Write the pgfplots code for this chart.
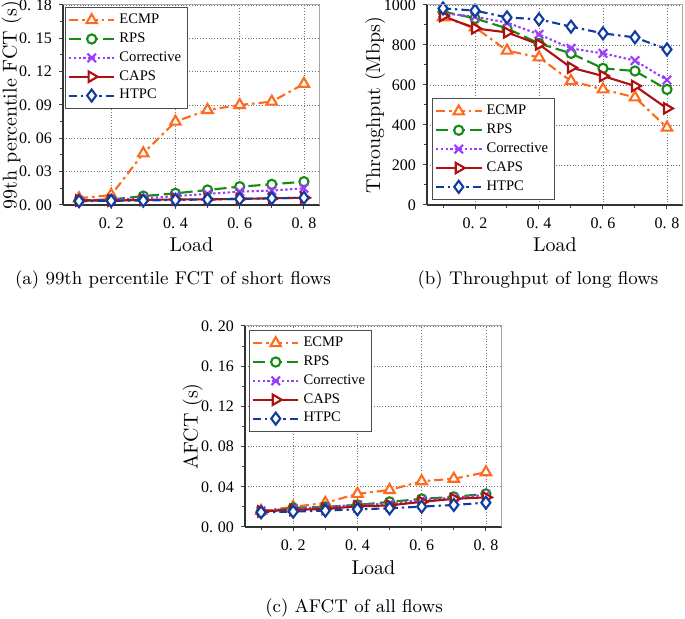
\documentclass[border=0pt]{standalone}
\usepackage{fontspec}
\usepackage{pgfplots}
\pgfplotsset{compat=1.18}

\newfontfamily\tnr{Liberation Serif}

\definecolor{cECMP}{RGB}{255,105,30}
\definecolor{cRPS}{RGB}{20,140,20}
\definecolor{cCorr}{RGB}{155,60,255}
\definecolor{cCAPS}{RGB}{175,15,15}
\definecolor{cHTPC}{RGB}{15,60,160}

% tick labels look like "0. 2" in the original
\newcommand\tl[1]{0.\kern2.4pt#1}

\pgfplotsset{
  loadfig/.style={
    scale only axis,
    xmin=0.05, xmax=0.85,
    xtick={0.2,0.4,0.6,0.8},
    xticklabels={\tl{2},\tl{4},\tl{6},\tl{8}},
    minor xtick={0.1,0.3,0.5,0.7},
    minor y tick num=1,
    grid=major,
    major grid style={black!55, densely dotted, line width=0.4pt},
    axis x line*=bottom, axis y line*=left,
    axis line style={black!80, line width=0.6pt},
    tick align=outside,
    major tick length=2pt, minor tick length=1.7pt,
    every tick/.style={black!75, line width=0.5pt},
    tick label style={font=\tnr\fontsize{8}{9}\selectfont},
    xticklabel style={yshift=-1pt},
    label style={font=\tnr\fontsize{10.8}{12}\selectfont},
    xlabel={Load},
    every axis x label/.style={at={(axis description cs:0.5,-0.2)}, anchor=center},
    legend style={font=\tnr\fontsize{7.3}{8}\selectfont, draw=black!70,
      line width=0.4pt, fill=white, inner sep=1.2pt, row sep=-0.9pt,
      cells={anchor=west}},
    legend image code/.code={\draw[mark repeat=2,mark phase=2]
      plot coordinates {(0cm,0cm)(0.4cm,0cm)(0.8cm,0cm)};},
    every axis plot/.append style={line width=1.05pt},
    % light frame on the top and right sides
    after end axis/.code={\draw[black!35, line width=0.5pt]
      (rel axis cs:0,1) -- (rel axis cs:1,1) -- (rel axis cs:1,0);},
  },
  ecmp/.style={color=cECMP, mark=triangle*, mark size=3pt,
    mark options={solid, fill=white}, dash pattern=on 4.5pt off 2pt on 1.3pt off 2pt},
  rps/.style={color=cRPS, mark=*, mark size=2.3pt,
    mark options={solid, fill=white}, dash pattern=on 6pt off 2.5pt},
  corr/.style={color=cCorr, mark=x, mark size=3pt,
    mark options={solid}, dash pattern=on 1.2pt off 1.2pt},
  caps/.style={color=cCAPS, mark=triangle*, mark size=3pt,
    mark options={solid, fill=white, rotate=-90}},
  htpc/.style={color=cHTPC, mark=diamond*, mark size=3pt,
    mark options={solid, fill=white}, dash pattern=on 4pt off 2pt on 1.2pt off 2pt},
}

\begin{document}
\begin{tikzpicture}
\useasboundingbox (0pt,0pt) rectangle (342.5pt,-309.5pt);

% (a) 99th percentile FCT of short flows
\begin{axis}[loadfig,
  at={(31.5pt,-2.5pt)}, anchor=north west,
  width=128.5pt, height=100pt,
  ymin=0, ymax=0.18,
  ytick={0,0.03,0.06,0.09,0.12,0.15,0.18},
  yticklabels={\tl{00},\tl{03},\tl{06},\tl{09},\tl{12},\tl{15},\tl{18}},
  ylabel={99th percentile FCT (s)},
  every axis y label/.style={at={(axis description cs:-0.2,0.5)}, rotate=90, anchor=center},
  legend style={at={(0.008,0.99)}, anchor=north west},
]
\addplot[ecmp] coordinates {(0.1,0.006) (0.2,0.009) (0.3,0.0465) (0.4,0.075) (0.5,0.0855) (0.6,0.090) (0.7,0.093) (0.8,0.109)};
\addplot[rps] coordinates {(0.1,0.004) (0.2,0.005) (0.3,0.008) (0.4,0.0105) (0.5,0.0135) (0.6,0.0165) (0.7,0.0186) (0.8,0.021)};
\addplot[corr] coordinates {(0.1,0.004) (0.2,0.005) (0.3,0.006) (0.4,0.008) (0.5,0.010) (0.6,0.012) (0.7,0.013) (0.8,0.015)};
\addplot[caps] coordinates {(0.1,0.004) (0.2,0.004) (0.3,0.0045) (0.4,0.005) (0.5,0.005) (0.6,0.0055) (0.7,0.006) (0.8,0.0065)};
\addplot[htpc] coordinates {(0.1,0.0035) (0.2,0.0038) (0.3,0.004) (0.4,0.0045) (0.5,0.005) (0.6,0.0055) (0.7,0.006) (0.8,0.0065)};
\legend{ECMP,RPS,Corrective,CAPS,HTPC}
\end{axis}

% (b) Throughput of long flows
\begin{axis}[loadfig,
  at={(213.5pt,-2.5pt)}, anchor=north west,
  width=128pt, height=100pt,
  ymin=0, ymax=1000,
  ytick={0,200,400,600,800,1000},
  yticklabels={0,200,400,600,800,1000},
  ylabel={Throughput (Mbps)},
  every axis y label/.style={at={(axis description cs:-0.203,0.5)}, rotate=90, anchor=center},
  legend style={at={(0.02,0.025)}, anchor=south west},
]
\addplot[ecmp] coordinates {(0.1,938) (0.2,888) (0.3,772) (0.4,738) (0.5,620) (0.6,578) (0.7,538) (0.8,387)};
\addplot[rps] coordinates {(0.1,967) (0.2,933) (0.3,883) (0.4,808) (0.5,758) (0.6,683) (0.7,670) (0.8,578)};
\addplot[corr] coordinates {(0.1,958) (0.2,942) (0.3,912) (0.4,853) (0.5,783) (0.6,758) (0.7,722) (0.8,625)};
\addplot[caps] coordinates {(0.1,945) (0.2,883) (0.3,863) (0.4,803) (0.5,687) (0.6,645) (0.7,595) (0.8,483)};
\addplot[htpc] coordinates {(0.1,983) (0.2,972) (0.3,938) (0.4,928) (0.5,892) (0.6,858) (0.7,838) (0.8,778)};
\legend{ECMP,RPS,Corrective,CAPS,HTPC}
\end{axis}

% (c) AFCT of all flows
\begin{axis}[loadfig,
  at={(122.5pt,-163pt)}, anchor=north west,
  width=128.5pt, height=100.5pt,
  ymin=0, ymax=0.2,
  ytick={0,0.04,0.08,0.12,0.16,0.2},
  yticklabels={\tl{00},\tl{04},\tl{08},\tl{12},\tl{16},\tl{20}},
  ylabel={AFCT (s)},
  every axis y label/.style={at={(axis description cs:-0.204,0.5)}, rotate=90, anchor=center},
  legend style={at={(0.016,0.98)}, anchor=north west},
]
\addplot[ecmp] coordinates {(0.1,0.016) (0.2,0.020) (0.3,0.024) (0.4,0.033) (0.5,0.0368) (0.6,0.0455) (0.7,0.048) (0.8,0.0545)};
\addplot[rps] coordinates {(0.1,0.015) (0.2,0.019) (0.3,0.020) (0.4,0.022) (0.5,0.025) (0.6,0.028) (0.7,0.030) (0.8,0.033)};
\addplot[corr] coordinates {(0.1,0.016) (0.2,0.018) (0.3,0.020) (0.4,0.022) (0.5,0.023) (0.6,0.027) (0.7,0.029) (0.8,0.032)};
\addplot[caps] coordinates {(0.1,0.0155) (0.2,0.017) (0.3,0.018) (0.4,0.0205) (0.5,0.0215) (0.6,0.025) (0.7,0.028) (0.8,0.0295)};
\addplot[htpc] coordinates {(0.1,0.0146) (0.2,0.0153) (0.3,0.0163) (0.4,0.0176) (0.5,0.0186) (0.6,0.0203) (0.7,0.0219) (0.8,0.0242)};
\legend{ECMP,RPS,Corrective,CAPS,HTPC}
\end{axis}

% sub-figure captions
\node[font=\fontsize{9.2}{11}\selectfont] at (86.5pt,-140pt) {(a) 99th percentile FCT of short flows};
\node[font=\fontsize{9.2}{11}\selectfont] at (269pt,-140pt) {(b) Throughput of long flows};
\node[font=\fontsize{9.2}{11}\selectfont] at (177pt,-304pt) {(c) AFCT of all flows};
\end{tikzpicture}
\end{document}
